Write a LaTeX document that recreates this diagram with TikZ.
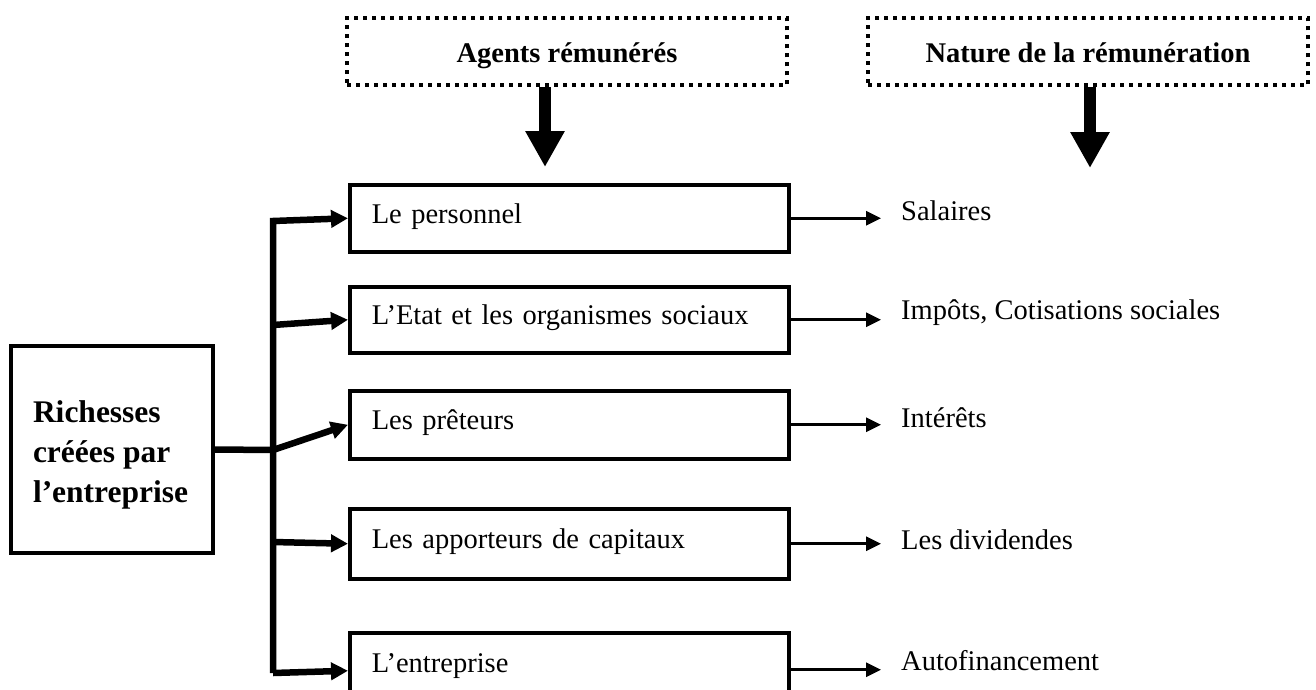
\documentclass[tikz,border=0pt]{standalone}
\usepackage{fontspec}
\setmainfont{Liberation Serif}
\usetikzlibrary{arrows.meta}
\tikzset{
  txt/.style={font=\fontsize{28.5}{34}\selectfont},
  agent/.style={draw, line width=3.5pt, txt, text width=395pt, align=left,
    inner xsep=22pt, inner ysep=0pt, minimum width=439pt, anchor=north west,
    text height=20pt, text depth=10pt},
  res/.style={txt, inner sep=0pt, anchor=west, text height=20pt, text depth=6pt},
  header/.style={draw, line width=4pt, dash pattern=on 4pt off 5pt,
    minimum width=440pt, minimum height=67pt, text height=28pt, text depth=7pt,
    font=\fontsize{28.5}{34}\selectfont\bfseries},
  bigline/.style={line width=6.5pt, line join=miter, -{Triangle[length=17pt,width=17pt]}},
  link/.style={line width=6.5pt},
  thinarr/.style={line width=3pt, -{Triangle[length=15pt,width=14pt]}},
  downarr/.style={line width=12pt, -{Triangle[length=36pt,width=37pt]}}
}
\begin{document}
\begin{tikzpicture}[x=1pt,y=-1pt]
\useasboundingbox (0,0) rectangle (1316,690);
\clip (0,0) rectangle (1316,690);

% headers
\node[header] (h1) at (567,52) {Agents rémunérés};
\node[header] (h2) at (1088,52) {Nature de la rémunération};
\coordinate (d1) at (545,167);
\coordinate (d2) at (1090,168);
\draw[downarr] (h1.south -| d1) -- (d1);
\draw[downarr] (h2.south -| d2) -- (d2);

% left box
\node[draw, line width=4pt, minimum width=202pt, minimum height=207pt, inner sep=0pt] (rich) at (112,449.5)
  {\parbox[c][150pt][t]{158pt}{\fontsize{31.5}{40}\selectfont\bfseries\raggedright
   \vspace*{26pt}\mbox{Richesses}\\\mbox{créées par}\\\mbox{l’entreprise}}};

% agent boxes
\node[agent, minimum height=67pt] (b1) at (348,183) {Le personnel};
\node[agent, minimum height=66pt] (b2) at (348,285) {L’Etat et les organismes sociaux};
\node[agent, minimum height=68pt] (b3) at (348,389) {Les prêteurs};
\node[agent, minimum height=70pt] (b4) at (348,507) {Les apporteurs de capitaux};
\node[agent, minimum height=74pt, text depth=14pt] (b5) at (348,631) {L’entreprise};

% results
\node[res] (s1) at (901,213) {Salaires};
\node[res] (s2) at (901,312) {Impôts, Cotisations sociales};
\node[res] (s3) at (901,420) {Intérêts};
\node[res] (s4) at (901,542) {Les dividendes};
\node[res] (s5) at (901,663) {Autofinancement};

% trunk coordinates
\coordinate (t1) at (273,221);
\coordinate (t2) at (273,325);
\coordinate (t3) at (273,450);
\coordinate (t4) at (273,542);
\coordinate (tb) at (273,673);

\draw[link] (rich.east) -- (t3);
\draw[bigline] (tb) -- (t1) -- (b1.west);
\draw[bigline] (t2) -- (b2.west);
\draw[bigline] (t3) -- (b3.west);
\draw[bigline] (t4) -- (b4.west);
\draw[bigline] (tb) -- ([yshift=-1pt]b5.west);

\foreach \i in {1,...,5}{
  \draw[thinarr, shorten >=20pt] (b\i.east) -- (b\i.east -| s\i.west);
}
\end{tikzpicture}
\end{document}
